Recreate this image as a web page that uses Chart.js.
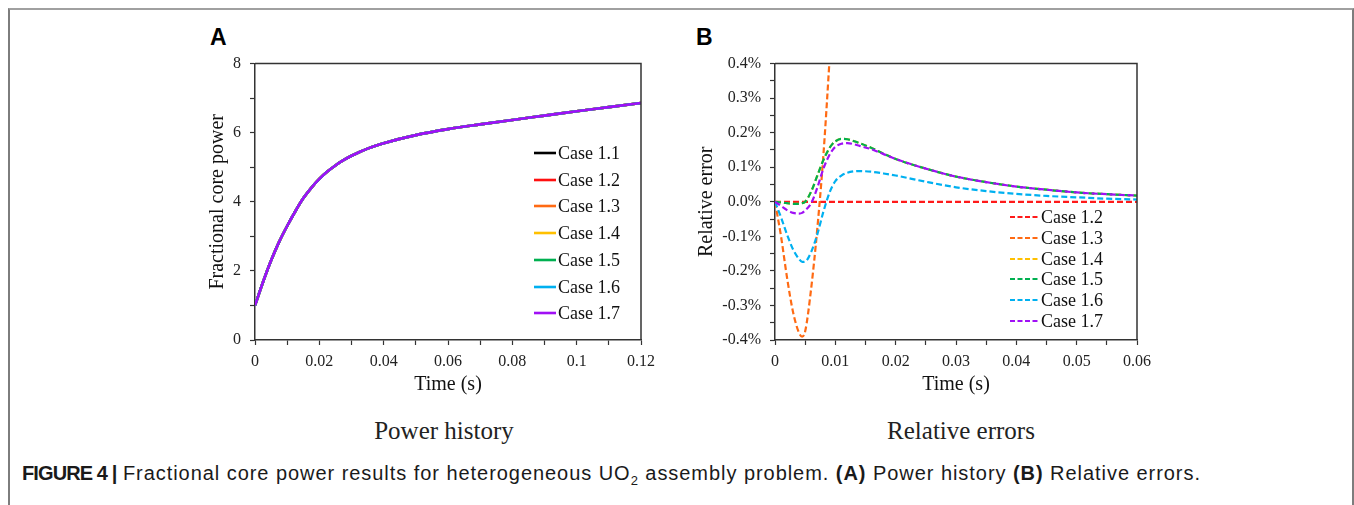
<!DOCTYPE html>
<html><head><meta charset="utf-8">
<script src="https://cdn.jsdelivr.net/npm/chart.js@4.4.0/dist/chart.umd.min.js"></script>
<style>
html,body{margin:0;padding:0;background:#fff;width:1354px;height:505px;overflow:hidden;position:relative;}
#frame{position:absolute;left:8px;top:8px;width:1342px;height:600px;border-left:2px solid #7d7d7d;border-right:2px solid #7d7d7d;border-top:2px solid #a0a0a0;}
canvas.cv{position:absolute;}
.panel{position:absolute;font:bold 23px "Liberation Sans",Arial,sans-serif;color:#000;line-height:1;}
.sub{position:absolute;font:25px "Liberation Serif","Times New Roman",serif;color:#222;transform:translate(-50%,-50%);white-space:nowrap;}
.row{position:absolute;display:flex;align-items:center;white-space:nowrap;height:20px;font:18px "Liberation Serif","Times New Roman",serif;color:#111;line-height:20px;}
.row svg{display:block;margin-right:2px;}
#caption{position:absolute;left:22px;top:462px;font:20px "Liberation Sans",Arial,sans-serif;color:#1a1a1a;white-space:nowrap;letter-spacing:0.95px;}
#caption .fig{font-weight:bold;letter-spacing:-0.9px;}
#caption b{font-weight:bold;}
</style></head>
<body>
<div id="frame"></div>
<div class="panel" style="left:210px;top:26px;">A</div>
<div class="panel" style="left:696px;top:26px;">B</div>
<canvas id="cA" class="cv" width="470" height="352" style="left:195px;top:45px;"></canvas>
<canvas id="cB" class="cv" width="471" height="352" style="left:690px;top:45px;"></canvas>
<div class="sub" style="left:444px;top:431px;">Power history</div>
<div class="sub" style="left:961px;top:431px;">Relative errors</div>
<div id="caption"><span class="fig">FIGURE 4 |</span> Fractional core power results for heterogeneous UO<sub style="font-size:13px">2</sub> assembly problem. <b>(A)</b> Power history <b>(B)</b> Relative errors.</div>
<script>
// ---------- Data ----------
const caseLabelsA = ['Case 1.1','Case 1.2','Case 1.3','Case 1.4','Case 1.5','Case 1.6','Case 1.7'];
const caseColorsA = ['#000000','#ff1010','#ff6a13','#ffc000','#00b050','#00b0f0','#a010f5'];

const timeA  = [0, 0.0025, 0.005, 0.0075, 0.01, 0.0125, 0.015, 0.0175, 0.02, 0.0225, 0.025, 0.0275, 0.03, 0.0325, 0.035, 0.0375, 0.04, 0.05, 0.06, 0.07, 0.08, 0.09, 0.1, 0.11, 0.12];
const powerA = [1.00, 1.68, 2.30, 2.84, 3.30, 3.72, 4.10, 4.405, 4.662, 4.874, 5.052, 5.203, 5.332, 5.443, 5.539, 5.623, 5.698, 5.930, 6.103, 6.24, 6.37, 6.495, 6.62, 6.74, 6.86];
// all seven cases overlap within the line width
const powerCasesA = [powerA, powerA, powerA, powerA, powerA, powerA, powerA];

const caseLabelsB = ['Case 1.2','Case 1.3','Case 1.4','Case 1.5','Case 1.6','Case 1.7'];
const caseColorsB = ['#ff1a1a','#ff6a13','#ffc000','#00b050','#00b0f0','#a010f5'];

const timeB = [0, 0.001, 0.002, 0.003, 0.004, 0.0045, 0.005, 0.006, 0.007, 0.008, 0.009, 0.0095, 0.01, 0.011, 0.012, 0.013, 0.014, 0.016, 0.018, 0.02, 0.025, 0.03, 0.035, 0.04, 0.045, 0.05, 0.055, 0.06];
const err12 = [0,0,0,0,0,0,0,0,0,0,0,0,0,0,0,0,0,0,0,0,0,0,0,0,0,0,0,0];
const err13 = [0,-0.10,-0.22,-0.32,-0.38,-0.39,-0.375,-0.25,-0.08,0.13,0.40,0.55,0.70,null,null,null,null,null,null,null,null,null,null,null,null,null,null,null];
const err14 = [0,-0.002,-0.004,-0.006,-0.006,-0.004,0.0,0.03,0.075,0.12,0.155,0.167,0.175,0.182,0.181,0.176,0.170,0.156,0.139,0.124,0.096,0.073,0.057,0.044,0.035,0.027,0.022,0.018];
const err15 = [0,-0.002,-0.004,-0.006,-0.006,-0.004,0.0,0.03,0.075,0.12,0.155,0.167,0.175,0.182,0.181,0.176,0.170,0.156,0.139,0.124,0.096,0.073,0.057,0.044,0.035,0.027,0.022,0.018];
const err16 = [0,-0.045,-0.095,-0.138,-0.166,-0.174,-0.173,-0.145,-0.095,-0.03,0.025,0.045,0.06,0.076,0.084,0.088,0.089,0.087,0.082,0.076,0.058,0.042,0.031,0.023,0.017,0.013,0.009,0.0065];
const err17 = [0,-0.012,-0.024,-0.032,-0.034,-0.032,-0.025,-0.004,0.04,0.095,0.135,0.149,0.159,0.168,0.170,0.167,0.162,0.152,0.138,0.124,0.096,0.073,0.057,0.044,0.035,0.027,0.022,0.018];
const errCasesB = [err12, err13, err14, err15, err16, err17];

// ---------- Chart setup ----------
Chart.defaults.font.family = '"Liberation Serif","Times New Roman",serif';
Chart.defaults.color = '#222';
Chart.defaults.animation = false;

const boxPlugin = {
  id: 'box',
  afterDraw(chart) {
    const {ctx, chartArea: a} = chart;
    ctx.save();
    ctx.strokeStyle = '#333';
    ctx.lineWidth = 1.5;
    ctx.beginPath();
    ctx.moveTo(a.left, a.top);
    ctx.lineTo(a.right, a.top);
    ctx.lineTo(a.right, a.bottom);
    ctx.stroke();
    ctx.restore();
  }
};

function axisCommon(extra) {
  return Object.assign({
    type: 'linear',
    grid: {drawOnChartArea: false, drawTicks: true, tickLength: 5, color: '#333', tickWidth: 1.2},
    border: {display: true, color: '#333', width: 1.5},
  }, extra);
}

function pairs(xs, ys) { return xs.map((x, i) => ({x: x, y: ys[i]})); }

function makeChart(id, datasets, xOpts, yOpts, yW, padTop) {
  return new Chart(document.getElementById(id), {
    type: 'line',
    data: {datasets: datasets},
    options: {
      responsive: false,
      devicePixelRatio: 1,
      layout: {padding: {top: padTop, right: 24, left: 0, bottom: 0}},
      plugins: {legend: {display: false}, tooltip: {enabled: false}},
      elements: {point: {radius: 0}},
      scales: {
        x: axisCommon(Object.assign({
          afterFit(s) { s.height = 57; },
        }, xOpts)),
        y: axisCommon(Object.assign({
          afterFit(s) { s.width = yW; },
        }, yOpts)),
      }
    },
    plugins: [boxPlugin]
  });
}

// Panel A
const dsA = caseLabelsA.map((lab, i) => ({
  label: lab,
  data: pairs(timeA, powerCasesA[i]),
  borderColor: caseColorsA[i],
  borderWidth: 2.6,
  cubicInterpolationMode: 'monotone',
  order: 20 - i,
}));
makeChart('cA', dsA,
  {min: 0, max: 0.12,
   ticks: {stepSize: 0.01, autoSkip: false, maxRotation: 0, padding: 7, font: {size: 16},
           callback: v => (Math.round(v * 100) % 2 === 0) ? (Math.abs(v) < 1e-9 ? '0' : String(Math.round(v * 100) / 100)) : ''},
   title: {display: true, text: 'Time (s)', font: {size: 20}, color: '#111', padding: {top: 0, bottom: 0}}},
  {min: 0, max: 8,
   ticks: {stepSize: 1, autoSkip: false, padding: 9, font: {size: 16},
           callback: v => (Math.round(v) % 2 === 0) ? String(Math.round(v)) : ''},
   title: {display: true, text: 'Fractional core power', font: {size: 20}, color: '#111', padding: {top: 11, bottom: 0}}},
  60, 16);

// Panel B
const dsB = caseLabelsB.map((lab, i) => ({
  label: lab,
  data: pairs(timeB, errCasesB[i]),
  borderColor: caseColorsB[i],
  borderWidth: 2.2,
  borderDash: [6, 3],
  cubicInterpolationMode: 'monotone',
  spanGaps: false,
  order: 20 - i,
}));
makeChart('cB', dsB,
  {min: 0, max: 0.06,
   ticks: {stepSize: 0.005, autoSkip: false, maxRotation: 0, padding: 7, font: {size: 16},
           callback: v => (Math.round(v * 1000) % 10 === 0) ? (Math.abs(v) < 1e-9 ? '0' : String(Math.round(v * 100) / 100)) : ''},
   title: {display: true, text: 'Time (s)', font: {size: 20}, color: '#111', padding: {top: 0, bottom: 0}}},
  {min: -0.4, max: 0.4,
   ticks: {stepSize: 0.05, autoSkip: false, padding: 9, font: {size: 16},
           callback: v => (Math.round(v * 100) % 10 === 0) ? ((Math.abs(v) < 1e-9 ? 0 : v).toFixed(1) + '%') : ''},
   title: {display: true, text: 'Relative error', font: {size: 20}, color: '#111', padding: {top: 5, bottom: 0}}},
  85, 13);

// ---------- Legends (HTML text) ----------
function buildLegend(labels, colors, x0, lineW, y0, dy, sw, dash) {
  labels.forEach((lab, i) => {
    const row = document.createElement('div');
    row.className = 'row';
    row.style.left = x0 + 'px';
    row.style.top = (y0 + dy * i - 10) + 'px';
    const ns = 'http://www.w3.org/2000/svg';
    const svg = document.createElementNS(ns, 'svg');
    svg.setAttribute('width', lineW);
    svg.setAttribute('height', 6);
    const ln = document.createElementNS(ns, 'line');
    ln.setAttribute('x1', 0); ln.setAttribute('x2', lineW);
    ln.setAttribute('y1', 3); ln.setAttribute('y2', 3);
    ln.setAttribute('stroke', colors[i]);
    ln.setAttribute('stroke-width', sw);
    if (dash) ln.setAttribute('stroke-dasharray', dash);
    svg.appendChild(ln);
    const sp = document.createElement('span');
    sp.textContent = lab;
    row.appendChild(svg);
    row.appendChild(sp);
    document.body.appendChild(row);
  });
}
buildLegend(caseLabelsA, caseColorsA, 534, 22, 153, 26.7, 2.6, null);
buildLegend(caseLabelsB, caseColorsB, 1010, 29, 217, 20.75, 2, '5 2.5');
</script>
</body></html>
